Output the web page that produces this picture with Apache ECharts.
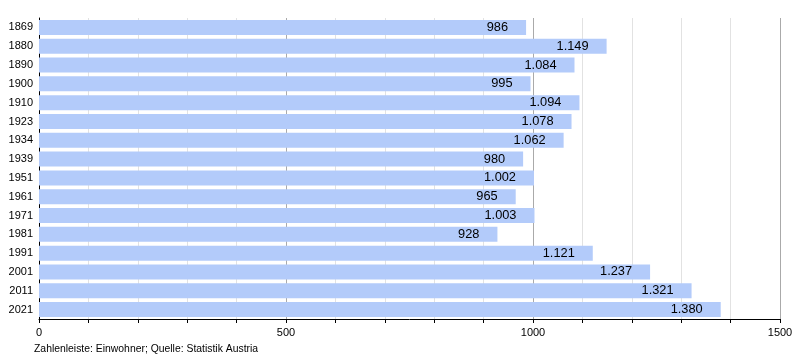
<!DOCTYPE html>
<html><head><meta charset="utf-8">
<script src="https://cdn.jsdelivr.net/npm/echarts@6/dist/echarts.min.js"></script>
<style>html,body{margin:0;padding:0;background:#fff}#c{width:800px;height:360px}</style>
</head><body><div id="c"></div>
<script>
const years = ['1869','1880','1890','1900','1910','1923','1934','1939','1951','1961','1971','1981','1991','2001','2011','2021'];
const population = [986,1149,1084,995,1094,1078,1062,980,1002,965,1003,928,1121,1237,1321,1380];
const xTickLabels = ['0','500','1000','1500'];
const footnote = 'Zahlenleiste: Einwohner; Quelle: Statistik Austria';

function fmt(v){ return String(v).replace(/\B(?=(\d{3})+(?!\d))/g,'.'); }
const font = 'Liberation Sans, Arial, sans-serif';
const chart = echarts.init(document.getElementById('c'), null, {renderer:'canvas'});
chart.setOption({
  animation:false,
  grid:{left:39, right:20, top:18, bottom:41, containLabel:false},
  xAxis:{type:'value', min:0, max:1500, interval:100,
    axisLine:{show:true, lineStyle:{color:'#000', width:1}},
    axisTick:{show:true, length:4, lineStyle:{color:'#000'}},
    axisLabel:{color:'#000', fontFamily:font, fontSize:11, margin:8,
      formatter:function(v){ const s=String(v); return xTickLabels.indexOf(s)>=0 ? s : ''; }},
    splitLine:{show:true, lineStyle:{color:['#aaaaaa','#e2e2e2','#e2e2e2','#e2e2e2','#e2e2e2'], width:1}}
  },
  yAxis:{type:'category', data:years, inverse:true,
    axisLine:{show:true, lineStyle:{color:'#000', width:1}},
    axisTick:{show:false},
    axisLabel:{color:'#000', fontFamily:font, fontSize:11, margin:6},
    splitLine:{show:false}
  },
  series:[{type:'bar', data:population, barCategoryGap:'20%',
    itemStyle:{color:'#b3cbfa'},
    label:{show:true, position:'insideRight', distance:18, color:'#000', fontFamily:font, fontSize:12.8,
      formatter:function(p){ return fmt(p.value); }}
  }],
  graphic:[{type:'text', left:34, top:344, style:{text:footnote, fill:'#000', font:'10.4px '+font}}]
});
</script></body></html>
